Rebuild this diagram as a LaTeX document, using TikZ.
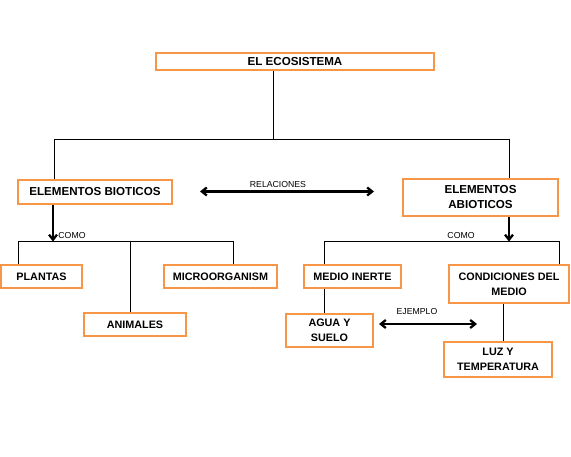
\documentclass[tikz,border=0pt]{standalone}
\usepackage{fontspec}
\setmainfont{Liberation Sans}
\usetikzlibrary{arrows.meta}
\definecolor{boxorange}{HTML}{F79646}
\begin{document}
\begin{tikzpicture}[x=1pt,y=-1pt,
  box/.style={draw=boxorange,line width=2pt,inner sep=0pt,align=center,
    font=\fontsize{10.8}{14.5}\selectfont\bfseries},
  bigbox/.style={box,font=\fontsize{11.6}{15}\selectfont\bfseries},
  lbl/.style={font=\fontsize{8.7}{10}\selectfont,inner sep=0pt},
  conn/.style={line width=1pt},
  arr/.style={line width=2.3pt,-{Straight Barb[length=5pt,width=8pt]}},
  darr/.style={line width=2.3pt,{Straight Barb[length=5pt,width=8pt]}-{Straight Barb[length=5pt,width=8pt]}}]
\useasboundingbox (0,0) rectangle (571,457);
% boxes
\node[box,minimum width=278pt,minimum height=17pt,font=\fontsize{11.6}{14}\selectfont\bfseries] (eco) at (295,61.5) {EL ECOSISTEMA};
\node[bigbox,minimum width=154pt,minimum height=24pt] (bio) at (95,192) {ELEMENTOS BIOTICOS};
\node[bigbox,minimum width=155pt,minimum height=37pt] (abio) at (480.5,197.5) {ELEMENTOS\\ABIOTICOS};
\node[box,minimum width=81pt,minimum height=23pt] (plantas) at (41.5,276.5) {PLANTAS};
\node[box,minimum width=113pt,minimum height=23pt] (micro) at (220.5,276.5) {MICROORGANISM};
\node[box,minimum width=102pt,minimum height=23pt] (animales) at (135,325) {ANIMALES};
\node[box,minimum width=97pt,minimum height=23pt] (medio) at (352.5,277) {MEDIO INERTE};
\node[box,minimum width=120pt,minimum height=38pt] (cond) at (509,284.5) {CONDICIONES DEL\\MEDIO};
\node[box,minimum width=87pt,minimum height=33pt] (agua) at (329.5,330.5) {AGUA Y\\SUELO};
\node[box,minimum width=108pt,minimum height=35pt] (luz) at (498,359.5) {LUZ Y\\TEMPERATURA};
% junction coordinates
\coordinate (tm) at (273,140);
\coordinate (tl) at (54,140);
\coordinate (tr) at (509,140);
\coordinate (ba) at (53,241.5);
\coordinate (bl) at (18,241.5);
\coordinate (bm) at (130,241.5);
\coordinate (br) at (233,241.5);
\coordinate (aa) at (509,241.5);
\coordinate (al) at (324,241.5);
\coordinate (ar) at (559,241.5);
\coordinate (mi) at (324,300);
\coordinate (cl) at (503,320);
\coordinate (r1) at (200,191.5);
\coordinate (r2) at (374,191.5);
\coordinate (e1) at (379,324);
\coordinate (e2) at (477,324);
% connectors
\draw[conn] (eco.south -| tm) -- (tm);
\draw[conn] (tl |- bio.north) -- (tl) -- (tr) -- (tr |- abio.north);
\draw[arr] (bio.south -| ba) -- (ba);
\draw[conn] (bl |- plantas.north) -- (bl) -- (br) -- (br |- micro.north);
\draw[conn] (bm) -- (bm |- animales.north);
\draw[arr] (abio.south -| aa) -- (aa);
\draw[conn] (al |- medio.north) -- (al) -- (ar) -- (ar |- cond.north);
\draw[conn] (medio.south -| mi) -- (agua.north -| mi);
\draw[conn] (cond.south -| cl) -- (luz.north -| cl);
\draw[darr] (r1) -- (r2);
\draw[darr] (e1) -- (e2);
% labels
\node[lbl] (como1) at (72,235.5) {COMO};
\node[lbl] (como2) at (461,235.5) {COMO};
\node[lbl] (rel) at (278,184.5) {RELACIONES};
\node[lbl] (ej) at (417,312) {EJEMPLO};
\end{tikzpicture}
\end{document}
